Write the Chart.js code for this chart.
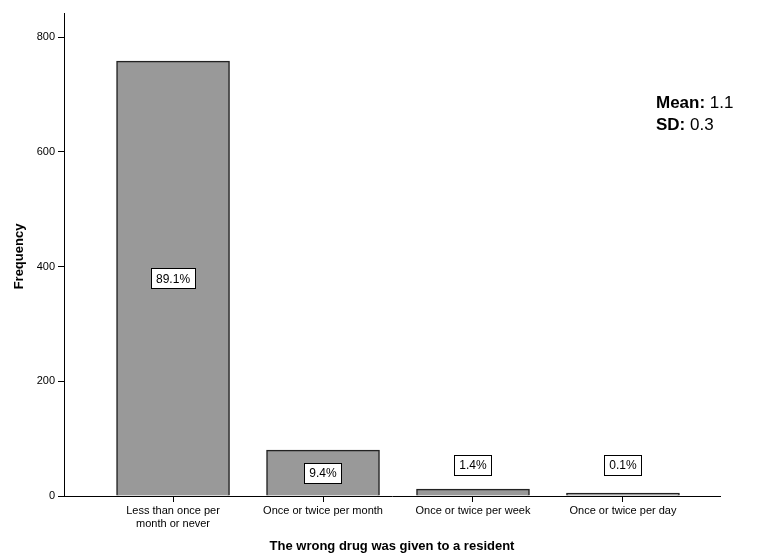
<!DOCTYPE html>
<html>
<head>
<meta charset="utf-8">
<script src="https://cdn.jsdelivr.net/npm/chart.js@4"></script>
<style>
  html, body { margin: 0; padding: 0; background: #fff; }
  #wrap { width: 768px; height: 559px; }
</style>
</head>
<body>
<div id="wrap"><canvas id="drugChart" width="768" height="559"></canvas></div>
<script>
var categories = [
    ['Less than once per', 'month or never'],
    'Once or twice per month',
    'Once or twice per week',
    'Once or twice per day'
];
var frequency = [758, 80, 12, 1];
var yTicks = [0, 200, 400, 600, 800];
var xTitle = 'The wrong drug was given to a resident';
var yTitle = 'Frequency';
var statNames = ['Mean:', 'SD:'];
var statValues = ['1.1', '0.3'];

var FONT = '"Liberation Sans", Arial, Helvetica, sans-serif';
var total = frequency.reduce(function (a, b) { return a + b; }, 0);

// percent boxes, axis titles and the mean/sd note
var extras = {
    id: 'extras',
    afterDatasetsDraw: function (chart) {
        var ctx = chart.ctx;
        var meta = chart.getDatasetMeta(0);
        ctx.save();
        ctx.font = '12px ' + FONT;
        ctx.textAlign = 'center';
        ctx.textBaseline = 'middle';
        meta.data.forEach(function (bar, i) {
            var h = bar.base - bar.y;
            var cy = h > 40 ? (bar.y + bar.base) / 2 : bar.base - 31;
            var label = (frequency[i] / total * 100).toFixed(1) + '%';
            var w = ctx.measureText(label).width + 10;
            ctx.fillStyle = '#fff';
            ctx.fillRect(Math.round(bar.x - w / 2) + 0.5, Math.round(cy - 10) + 0.5, Math.round(w), 20);
            ctx.strokeStyle = '#000';
            ctx.lineWidth = 1;
            ctx.strokeRect(Math.round(bar.x - w / 2) + 0.5, Math.round(cy - 10) + 0.5, Math.round(w), 20);
            ctx.fillStyle = '#000';
            ctx.fillText(label, bar.x, cy + 1);
        });

        ctx.font = 'bold 13px ' + FONT;
        ctx.fillText(xTitle, (chart.chartArea.left + chart.chartArea.right) / 2, 546);
        ctx.translate(19, (chart.chartArea.top + chart.chartArea.bottom) / 2 + 2);
        ctx.rotate(-Math.PI / 2);
        ctx.fillText(yTitle, 0, 0);
        ctx.restore();

        ctx.save();
        ctx.textAlign = 'left';
        ctx.textBaseline = 'alphabetic';
        ctx.fillStyle = '#000';
        statNames.forEach(function (name, i) {
            var y = 108 + i * 22;
            ctx.font = 'bold 17px ' + FONT;
            ctx.fillText(name, 656, y);
            var nw = ctx.measureText(name + ' ').width;
            ctx.font = '17px ' + FONT;
            ctx.fillText(statValues[i], 656 + nw, y);
        });
        ctx.restore();
    }
};

new Chart(document.getElementById('drugChart'), {
    type: 'bar',
    data: {
        datasets: [{
            data: frequency.map(function (v, i) { return { x: i, y: v }; }),
            backgroundColor: '#999999',
            borderColor: '#222222',
            borderWidth: 1.5,
            barThickness: 113,
            minBarLength: 3
        }]
    },
    options: {
        responsive: false,
        animation: false,
        layout: { padding: { left: 0, right: 48, top: 13, bottom: 0 } },
        plugins: { legend: { display: false }, tooltip: { enabled: false } },
        scales: {
            x: {
                type: 'linear',
                offset: false,
                min: -0.727,
                max: 3.647,
                afterBuildTicks: function (scale) {
                    scale.ticks = categories.map(function (c, i) { return { value: i }; });
                },
                afterFit: function (scale) { scale.height = 63; },
                ticks: {
                    autoSkip: false,
                    maxRotation: 0,
                    padding: 2,
                    color: '#000',
                    font: { family: FONT, size: 11 },
                    callback: function (v) { return categories[v]; }
                },
                grid: { offset: false, drawOnChartArea: false, tickLength: 6, color: '#000', lineWidth: 1 },
                border: { color: '#000', width: 1 }
            },
            y: {
                min: 0,
                max: 842,
                afterBuildTicks: function (scale) {
                    scale.ticks = yTicks.map(function (v) { return { value: v }; });
                },
                afterFit: function (scale) { scale.width = 64; },
                ticks: {
                    padding: 3,
                    color: '#000',
                    font: { family: FONT, size: 11 }
                },
                grid: { drawOnChartArea: false, tickLength: 6, color: '#000', lineWidth: 1 },
                border: { color: '#000', width: 1 }
            }
        }
    },
    plugins: [extras]
});
</script>
</body>
</html>
